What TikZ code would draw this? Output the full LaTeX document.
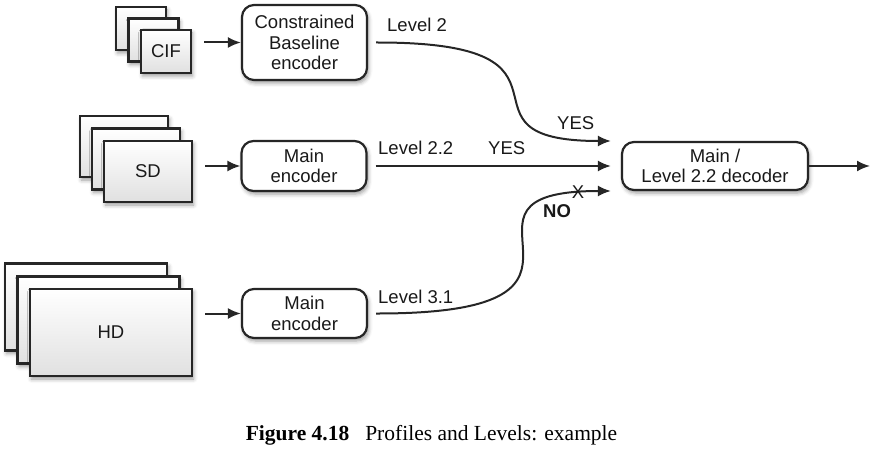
\documentclass[tikz,border=0pt]{standalone}
\usepackage{fontspec}
\setmainfont{Liberation Sans}
\newfontfamily\capfont{Liberation Serif}
\usetikzlibrary{arrows.meta,shadows.blur}
\begin{document}
\begin{tikzpicture}[x=1pt,y=-1pt,
  every node/.style={font=\fontsize{18.5}{20.5}\selectfont, text=black!90},
  shad/.style={blur shadow={shadow xshift=1.5pt, shadow yshift=-3pt, shadow blur radius=4pt, shadow opacity=40}},
  frame/.style={draw=black!85, line width=2.2pt, top color=white, bottom color=black!12, shad, inner sep=0pt},
  cifframe/.style={frame, minimum width=50pt, minimum height=43pt},
  sdframe/.style={frame, minimum width=88pt, minimum height=61pt},
  hdframe/.style={frame, minimum width=162pt, minimum height=87pt},
  box/.style={draw=black!85, line width=2.2pt, rounded corners=12pt, fill=white, align=center, shad, inner sep=0pt},
  arr/.style={draw=black!85, line width=2pt, -{Latex[length=13pt,width=11pt]}},
  lbl/.style={anchor=base west, inner sep=0pt}
]
\useasboundingbox (0,0) rectangle (872,449);

% CIF stack
\node[cifframe] (cif3) at (141,28.5) {};
\node[cifframe] (cif2) at (153.5,40) {};
\node[cifframe] (cif1) at (166,51.5) {CIF};
% SD stack
\node[sdframe] (sd3) at (124,146.5) {};
\node[sdframe] (sd2) at (136,159) {};
\node[sdframe] (sd1) at (148,171.5) {SD};
% HD stack
\node[hdframe] (hd3) at (86,307) {};
\node[hdframe] (hd2) at (98.5,320) {};
\node[hdframe] (hd1) at (111,332.5) {HD};

% encoders
\node[box, minimum width=125pt, minimum height=75pt] (enc1) at (304.5,42.5) {Constrained\\Baseline\\encoder};
\node[box, minimum width=125pt, minimum height=50pt] (enc2) at (304,166) {Main\\encoder};
\node[box, minimum width=125pt, minimum height=49pt] (enc3) at (304.5,313.5) {Main\\encoder};
% decoder
\node[box, minimum width=186pt, minimum height=48pt] (dec) at (715,166) {Main /\\Level 2.2 decoder};
\coordinate (out) at (870,166);

% input arrows
\draw[arr] ([xshift=12pt]cif1.east |- enc1.west) -- (enc1.west);
\draw[arr] ([xshift=12pt]sd1.east |- enc2.west) -- (enc2.west);
\draw[arr] ([xshift=12pt]hd1.east |- enc3.west) -- (enc3.west);

% to decoder
\draw[arr] ([xshift=8pt]enc1.east) .. controls (606,42) and (438,141) .. ([xshift=-10pt,yshift=25pt]dec.west);
\draw[arr] ([xshift=8pt]enc2.east) -- ([xshift=-10pt]dec.west);
\draw[arr] ([xshift=8pt]enc3.east) .. controls (650,314) and (420,191) .. ([xshift=-10pt,yshift=-25pt]dec.west);
\draw[arr] (dec.east) -- (out);

% labels
\node[lbl] (l2) at (387,32) {Level 2};
\node[lbl] (yes1) at (557,130) {YES};
\node[lbl] (l22) at (378,155) {Level 2.2};
\node[lbl] (yes2) at (488,155) {YES};
\node[lbl] (l31) at (378,303) {Level 3.1};
\node[lbl, font=\fontsize{18.5}{20.5}\selectfont\bfseries] (no) at (543,217) {NO};
\node[anchor=base, inner sep=0pt] (x) at (578,198) {X};

% caption
\node[font=\capfont\fontsize{21.5}{24}\selectfont, text=black, anchor=base, inner sep=0pt] (cap) at (431.5,440) {\textbf{Figure 4.18}\hspace{16pt}Profiles and Levels: example};
\end{tikzpicture}
\end{document}
